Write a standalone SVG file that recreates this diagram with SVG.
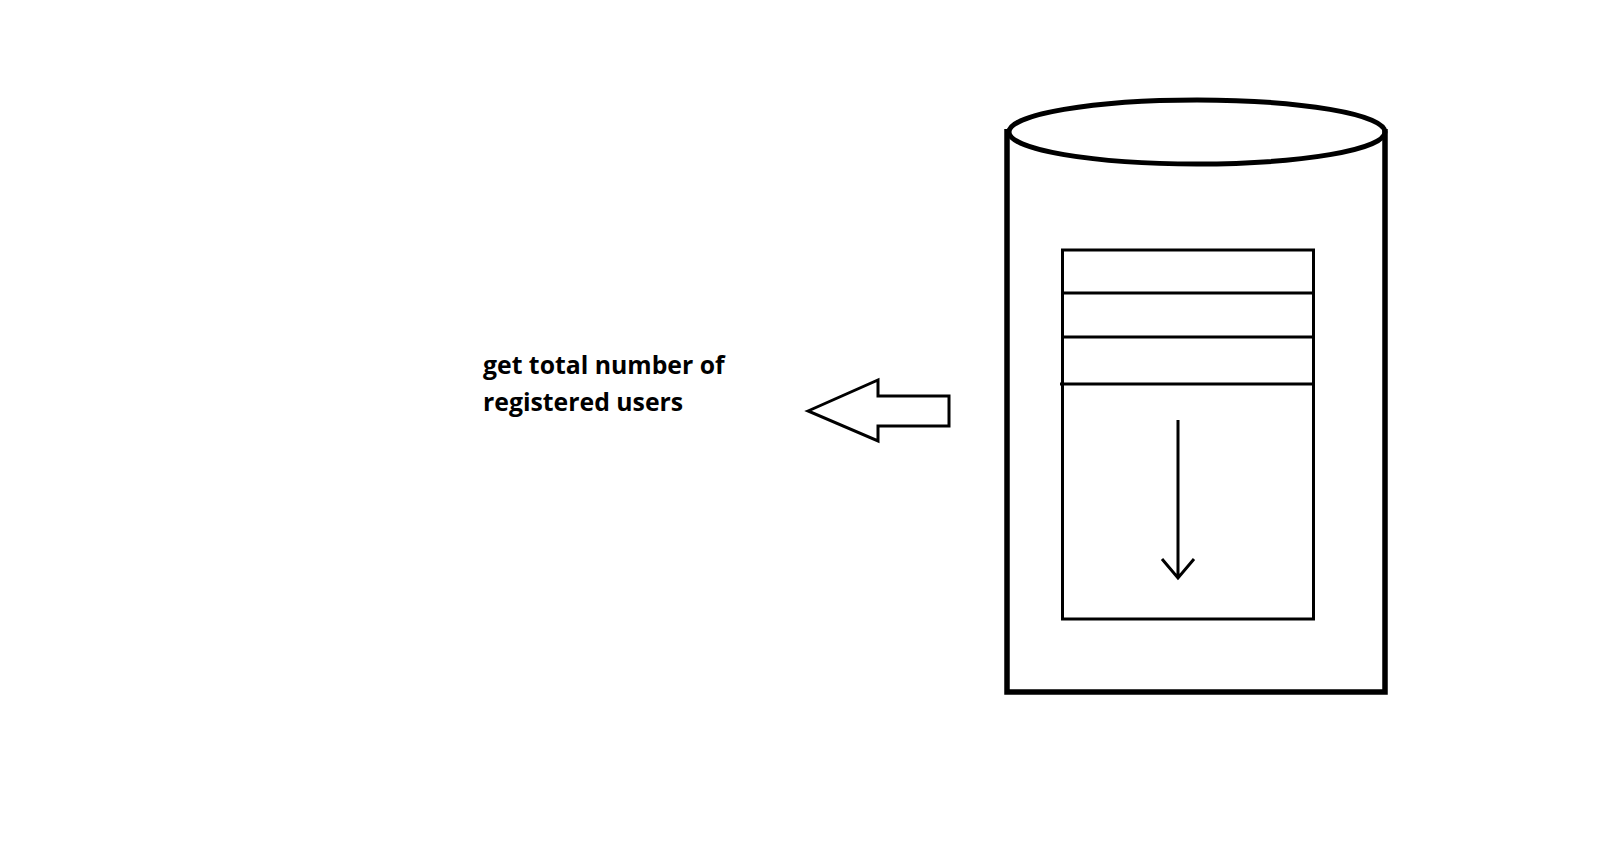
<svg xmlns="http://www.w3.org/2000/svg" width="1624" height="846" viewBox="0 0 1624 846">
<style>
.s{fill:none;stroke:#000;stroke-linejoin:miter}
.t{font-family:"Open Sans","Noto Sans","Liberation Sans",sans-serif;font-weight:700;font-size:24.8px;fill:#000}
</style>
<rect width="1624" height="846" fill="#fff"/>
<g id="database">
<path class="s" stroke-width="5.5" d="M1007 129V692H1385V129"/>
<ellipse class="s" stroke-width="5" cx="1197" cy="132" rx="188" ry="32"/>
</g>
<g id="table">
<rect class="s" stroke-width="3" x="1062.500" y="250" width="251" height="369"/>
<path class="s" stroke-width="3" d="M1062 293H1313M1062 337H1313M1060 384H1313"/>
</g>
<g id="connectors">
<path class="s" stroke-width="3" d="M1178 420V578M1162 559L1178 578L1194 559"/>
</g>
<g id="block-arrow">
<path class="s" stroke-width="3" d="M808 411L878 380V396H949V426H878V441Z"/>
</g>
<g id="label">
<text class="t" x="483" y="374">get total number of</text>
<text class="t" x="483" y="411">registered users</text>
</g>
</svg>
